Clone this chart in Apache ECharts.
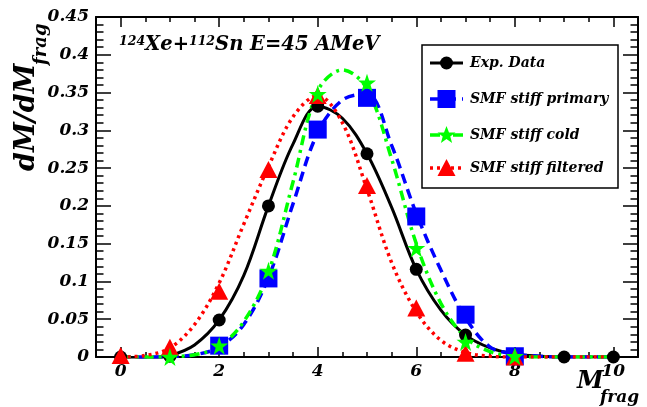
<!DOCTYPE html>
<html><head><meta charset="utf-8">
<script src="https://cdn.jsdelivr.net/npm/echarts@6/dist/echarts.min.js"></script>
<style>html,body{margin:0;padding:0;background:#fff}#c{width:647px;height:407px}</style>
</head><body><div id="c"></div>
<script>
// ---- data ----
const xMajorTicks = [0, 2, 4, 6, 8, 10];
const xMinorTicks = [-0.5,0,0.5,1,1.5,2,2.5,3,3.5,4,4.5,5,5.5,6,6.5,7,7.5,8,8.5,9,9.5,10,10.5];

const expX = [0, 1, 2, 3, 4, 5, 6, 7, 8, 9, 10];
const expY = [0, 0.001, 0.049, 0.200, 0.332, 0.269, 0.116, 0.029, 0.002, 0, 0];

const primX = [2, 3, 4, 5, 6, 7, 8];
const primY = [0.015, 0.104, 0.301, 0.343, 0.186, 0.056, 0.001];

const coldX = [1, 2, 3, 4, 5, 6, 7, 8];
const coldY = [0.000, 0.015, 0.114, 0.348, 0.363, 0.144, 0.020, 0.001];

const filtX = [0, 1, 2, 3, 4, 5, 6, 7, 8];
const filtY = [0.002, 0.013, 0.087, 0.248, 0.346, 0.227, 0.065, 0.005, 0.000];

// smooth curves
const curveX = [0,0.5,1,1.5,2,2.5,3,3.5,4,4.5,5,5.5,6,6.5,7,7.5,8,8.5,9,9.5,10];
const expCurve  = [0,-0.003,0.002,0.016,0.049,0.108,0.200,0.282,0.332,0.316,0.269,0.198,0.116,0.062,0.029,0.012,0.004,0.001,0,0,0];
const primCurve = [0,0,0.0005,0.003,0.013,0.043,0.105,0.203,0.297,0.340,0.348,0.280,0.190,0.115,0.052,0.013,0.004,0.001,0,0,0];
const coldCurve = [0,0,0.0005,0.003,0.014,0.047,0.112,0.232,0.352,0.380,0.355,0.262,0.150,0.071,0.026,0.007,0.001,0,0,0,0];
const filtCurve = [0,0.002,0.012,0.043,0.098,0.176,0.252,0.318,0.346,0.310,0.222,0.125,0.060,0.022,0.006,0.001,0,0,0,0,0];

const legendNames = ['Exp. Data', 'SMF stiff primary', 'SMF stiff cold', 'SMF stiff filtered'];

// ---- helpers ----
const zip = (xs, ys) => xs.map((x, i) => [x, ys[i]]);
const FONT = 'DejaVu Serif';
const BLUE = '#0000ff', GREEN = '#00ff00', RED = '#ff0000';
const STAR = 'path://M50,0 L61.8,35.3 L99,35.3 L69,57.1 L80.4,92.7 L50,70.7 L19.6,92.7 L31,57.1 L1,35.3 L38.2,35.3 Z';
const f = (px) => 'italic bold ' + px + 'px "' + FONT + '"';

const chart = echarts.init(document.getElementById('c'), null, {renderer: 'canvas'});

const AX = {color: '#000', width: 2};
const TK = {color: '#000', width: 1.5};
const xBase = {type: 'value', min: -0.5, max: 10.5, gridIndex: 0, splitLine: {show: false}};
const yBase = {type: 'value', min: 0, max: 0.45, interval: 0.05, splitLine: {show: false}};
const lbl = {fontFamily: FONT, fontStyle: 'italic', fontWeight: 'bold', color: '#000', fontSize: 17};

const legendGraphics = [];
const rowY = [63, 99, 135, 168];
const lx0 = 430, lx1 = 463, lmx = 446.5, ltx = 470;
legendGraphics.push({type: 'rect', shape: {x: 422, y: 45, width: 196, height: 143}, style: {fill: '#fff', stroke: '#000', lineWidth: 1.5}, z: 100});
const legLine = [
  {stroke: '#000', lineWidth: 3},
  {stroke: BLUE, lineWidth: 3.5, lineDash: [10, 6]},
  {stroke: GREEN, lineWidth: 3.5, lineDash: [10, 5, 3, 5]},
  {stroke: RED, lineWidth: 3.5, lineDash: [3, 4]}
];
legendNames.forEach((n, i) => {
  legendGraphics.push({type: 'line', shape: {x1: lx0, y1: rowY[i], x2: lx1, y2: rowY[i]}, style: legLine[i], z: 101});
  legendGraphics.push({type: 'text', x: ltx, y: rowY[i], style: {text: n, fill: '#000', font: f(14), textVerticalAlign: 'middle', textAlign: 'left'}, z: 101});
});
legendGraphics.push({type: 'circle', shape: {cx: lmx, cy: rowY[0], r: 6.5}, style: {fill: '#000'}, z: 102});
legendGraphics.push({type: 'rect', shape: {x: lmx - 9, y: rowY[1] - 9, width: 18, height: 18}, style: {fill: BLUE}, z: 102});
legendGraphics.push({type: 'polygon', shape: {points: [[lmx, rowY[2]-9],[lmx+2.5,rowY[2]-2.5],[lmx+9,rowY[2]-2.5],[lmx+3.8,rowY[2]+1.5],[lmx+5.6,rowY[2]+8],[lmx,rowY[2]+4],[lmx-5.6,rowY[2]+8],[lmx-3.8,rowY[2]+1.5],[lmx-9,rowY[2]-2.5],[lmx-2.5,rowY[2]-2.5]]}, style: {fill: GREEN}, z: 102});
legendGraphics.push({type: 'polygon', shape: {points: [[lmx, rowY[3]-9],[lmx+9,rowY[3]+8],[lmx-9,rowY[3]+8]]}, style: {fill: RED}, z: 102});

const titleGraphics = [
  {type: 'text', x: 119, y: 35, style: {
    text: '{s|124}{m|Xe+}{s|112}{m|Sn E=45 AMeV}',
    rich: {
      s: {fontFamily: FONT, fontStyle: 'italic', fontWeight: 'bold', fontSize: 12.5, verticalAlign: 'top', fill: '#000'},
      m: {fontFamily: FONT, fontStyle: 'italic', fontWeight: 'bold', fontSize: 19.5, fill: '#000'}
    }, textVerticalAlign: 'top'}, z: 50},
  {type: 'text', x: 577, y: 370, style: {text: 'M', fill: '#000', font: f(24), textVerticalAlign: 'top'}, z: 50},
  {type: 'text', x: 600, y: 389, style: {text: 'frag', fill: '#000', font: f(17), textVerticalAlign: 'top'}, z: 50},
  {type: 'group', x: 13, y: 171, rotation: Math.PI / 2, children: [
    {type: 'text', x: 0, y: 0, style: {text: 'dM/dM', fill: '#000', font: f(27), textVerticalAlign: 'top', textAlign: 'left'}},
    {type: 'text', x: 106, y: 19, style: {text: 'frag', fill: '#000', font: f(18), textVerticalAlign: 'top', textAlign: 'left'}}
  ]}
];

const option = {
  animation: false,
  backgroundColor: '#fff',
  grid: {left: 96, right: 9, top: 17, bottom: 50, containLabel: false},
  xAxis: [
    Object.assign({}, xBase, {position: 'bottom', axisLine: {onZero: false, lineStyle: AX},
      axisTick: {inside: true, length: 10, customValues: xMajorTicks, lineStyle: TK},
      axisLabel: Object.assign({customValues: xMajorTicks, margin: 6}, lbl)}),
    Object.assign({}, xBase, {position: 'bottom', axisLine: {onZero: false, show: false},
      axisTick: {inside: true, length: 5, customValues: xMinorTicks, lineStyle: TK},
      axisLabel: {show: false}}),
    Object.assign({}, xBase, {position: 'top', axisLine: {onZero: false, lineStyle: AX},
      axisTick: {inside: true, length: 10, customValues: xMajorTicks, lineStyle: TK},
      axisLabel: {show: false}}),
    Object.assign({}, xBase, {position: 'top', axisLine: {onZero: false, show: false},
      axisTick: {inside: true, length: 5, customValues: xMinorTicks, lineStyle: TK},
      axisLabel: {show: false}})
  ],
  yAxis: [
    Object.assign({}, yBase, {position: 'left', axisLine: {show: true, onZero: false, lineStyle: AX},
      axisTick: {show: true, inside: true, length: 15, lineStyle: TK},
      minorTick: {show: true, splitNumber: 5, length: 7.5, lineStyle: TK},
      axisLabel: Object.assign({margin: 7}, lbl)}),
    Object.assign({}, yBase, {position: 'right', axisLine: {show: true, onZero: false, lineStyle: AX},
      axisTick: {show: true, inside: true, length: 15, lineStyle: TK},
      minorTick: {show: true, splitNumber: 5, length: 7.5, lineStyle: TK},
      axisLabel: {show: false}})
  ],
  series: [
    {name: 'Exp. Data curve', type: 'line', data: zip(curveX, expCurve), smooth: 0.35, showSymbol: false, symbol: 'none',
      lineStyle: {color: '#000', width: 3}, z: 2},
    {name: 'SMF stiff primary curve', type: 'line', data: zip(curveX, primCurve), smooth: 0.35, showSymbol: false, symbol: 'none',
      lineStyle: {color: BLUE, width: 3.5, type: [10, 6]}, z: 2},
    {name: 'SMF stiff cold curve', type: 'line', data: zip(curveX, coldCurve), smooth: 0.35, showSymbol: false, symbol: 'none',
      lineStyle: {color: GREEN, width: 3.5, type: [10, 5, 3, 5]}, z: 2},
    {name: 'SMF stiff filtered curve', type: 'line', data: zip(curveX, filtCurve), smooth: 0.35, showSymbol: false, symbol: 'none',
      lineStyle: {color: RED, width: 3.5, type: [3, 4]}, z: 2},
    {name: legendNames[0], type: 'scatter', data: zip(expX, expY), symbol: 'circle', symbolSize: 13, itemStyle: {color: '#000', opacity: 1}, z: 3},
    {name: legendNames[1], type: 'scatter', data: zip(primX, primY), symbol: 'rect', symbolSize: 18, itemStyle: {color: BLUE, opacity: 1}, z: 4},
    {name: legendNames[3], type: 'scatter', data: zip(filtX, filtY), symbol: 'triangle', symbolSize: [18, 17], itemStyle: {color: RED, opacity: 1}, z: 5},
    {name: legendNames[2], type: 'scatter', data: zip(coldX, coldY), symbol: STAR, symbolSize: 18, itemStyle: {color: GREEN, opacity: 1}, z: 6}
  ],
  graphic: titleGraphics.concat(legendGraphics)
};
chart.setOption(option);
</script></body></html>
